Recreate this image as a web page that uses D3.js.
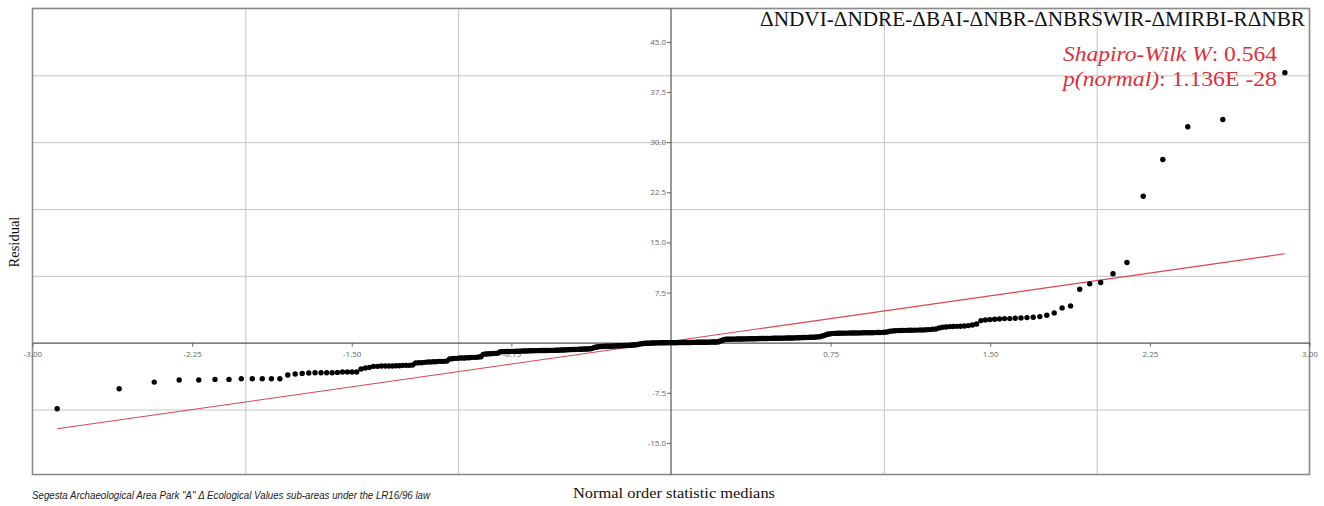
<!DOCTYPE html>
<html>
<head>
<meta charset="utf-8">
<script src="https://cdn.jsdelivr.net/npm/d3@7"></script>
<style>
  html, body { margin: 0; padding: 0; background: #fff; }
  svg { display: block; }
</style>
</head>
<body>
<svg id="chart" width="1324" height="506"></svg>
<script>
// ---------- data ----------
const residuals = [
  -9.9, -6.9, -5.9, -5.6, -5.6, -5.5, -5.5, -5.4, -5.4, -5.4, -5.4, -5.4,
  -4.85, -4.7, -4.6, -4.55, -4.5, -4.5, -4.5, -4.5, -4.45, -4.4, -4.4, -4.4, -4.4,
  -3.95, -3.8, -3.7,
  -3.55, -3.55, -3.5, -3.5, -3.5, -3.5, -3.45, -3.45, -3.4, -3.4, -3.4, -3.35,
  -3.05, -3.0, -3.0, -2.95, -2.9, -2.9, -2.85, -2.85, -2.8, -2.8, -2.8, -2.75,
  -2.45, -2.4, -2.35, -2.35, -2.3, -2.3, -2.3, -2.25, -2.25, -2.2, -2.2, -2.2, -2.15, -2.1,
  -1.75, -1.7, -1.7, -1.65, -1.65, -1.6, -1.6, -1.55,
  -1.35, -1.35, -1.34, -1.33, -1.32, -1.31, -1.3, -1.3, -1.29, -1.28, -1.27, -1.26, -1.25, -1.24, -1.23, -1.22,
  -1.21, -1.2, -1.2, -1.19, -1.19, -1.18, -1.18, -1.17, -1.17, -1.16, -1.16, -1.15, -1.15, -1.14, -1.13, -1.12, -1.11, -1.1, -1.09, -1.08,
  -1.06, -1.05, -1.04, -1.03, -1.02, -1.01, -1.0, -0.99, -0.98, -0.97, -0.96, -0.95, -0.94, -0.93, -0.92,
  -0.85, -0.75, -0.7, -0.65, -0.6,
  -0.58, -0.57, -0.56, -0.55, -0.55, -0.54, -0.53, -0.52, -0.51, -0.5, -0.49, -0.48, -0.47, -0.46, -0.45,
  -0.44, -0.43, -0.42, -0.41, -0.4, -0.38, -0.36, -0.34, -0.31, -0.28,
  -0.22, -0.18, -0.15, -0.12, -0.1, -0.09, -0.08, -0.07, -0.06, -0.05,
  -0.04, -0.04, -0.03, -0.03, -0.02, -0.02, -0.01, -0.01, 0, 0, 0, 0, 0, 0, 0, 0,
  0.01, 0.01, 0.01, 0.02, 0.02, 0.02, 0.03, 0.03, 0.03, 0.04, 0.04, 0.04, 0.05, 0.05, 0.05,
  0.06, 0.06, 0.06, 0.07, 0.07, 0.08, 0.08, 0.09, 0.09, 0.1, 0.1, 0.11,
  0.2, 0.3, 0.4, 0.45, 0.5,
  0.5, 0.51, 0.52, 0.52, 0.53, 0.53, 0.54, 0.54, 0.55, 0.55,
  0.56, 0.56, 0.57, 0.57, 0.58, 0.58, 0.59, 0.59, 0.6, 0.6,
  0.61, 0.61, 0.62, 0.62, 0.63, 0.63, 0.64, 0.64, 0.65, 0.65,
  0.66, 0.66, 0.67, 0.67, 0.68, 0.68, 0.69, 0.69, 0.7, 0.7,
  0.71, 0.72, 0.73, 0.74, 0.75, 0.76, 0.77, 0.78, 0.79, 0.8,
  0.81, 0.82, 0.84, 0.86, 0.88,
  0.95, 1.05, 1.15, 1.25, 1.3, 1.35,
  1.38, 1.39, 1.4, 1.41, 1.42, 1.42, 1.43, 1.43, 1.44, 1.44,
  1.45, 1.45, 1.46, 1.46, 1.47, 1.47, 1.48, 1.48, 1.49, 1.5,
  1.51, 1.52, 1.54, 1.56, 1.6,
  1.7, 1.75, 1.78, 1.8, 1.82, 1.83, 1.84, 1.85, 1.86, 1.87, 1.88, 1.89, 1.9, 1.92, 1.95, 2.0, 2.05,
  2.2, 2.3, 2.35, 2.4, 2.42, 2.44, 2.46, 2.5, 2.55, 2.65, 2.8,
  3.3, 3.4, 3.45, 3.5, 3.55, 3.6, 3.6, 3.65, 3.7, 3.75, 3.8, 3.9, 4.1, 4.45,
  5.2, 5.5, 8.0, 8.8, 9.0, 10.3, 12.0, 21.9, 27.4, 32.3, 33.4, 40.4
];
const lineIntercept = 0.2;     // fitted reference line
const lineSlope = 4.54;
const xTicks = [-3, -2.25, -1.5, -0.75, 0.75, 1.5, 2.25, 3];
const yTicks = [-15, -7.5, 7.5, 15, 22.5, 30, 37.5, 45];
const xGrid = [-2, -1, 1, 2];
const yGrid = [-10, 10, 20, 30, 40];
const titleText = "ΔNDVI-ΔNDRE-ΔBAI-ΔNBR-ΔNBRSWIR-ΔMIRBI-RΔNBR";
const statW = "0.564";
const statP = "1.136E -28";
const xLabel = "Normal order statistic medians";
const yLabel = "Residual";
const caption = "Segesta Archaeological Area Park \"A\" Δ Ecological Values sub-areas under the LR16/96 law";

// ---------- helpers ----------
function normInv(p) { // Acklam's approximation
  const a = [-3.969683028665376e+01, 2.209460984245205e+02, -2.759285104469687e+02, 1.383577518672690e+02, -3.066479806614716e+01, 2.506628277459239e+00];
  const b = [-5.447609879822406e+01, 1.615858368580409e+02, -1.556989798598866e+02, 6.680131188771972e+01, -1.328068155288572e+01];
  const c = [-7.784894002430293e-03, -3.223964580411365e-01, -2.400758277161838e+00, -2.549732539343734e+00, 4.374664141464968e+00, 2.938163982698783e+00];
  const d = [7.784695709041462e-03, 3.224671290700398e-01, 2.445134137142996e+00, 3.754408661907416e+00];
  const pl = 0.02425, ph = 1 - pl;
  let q, r;
  if (p < pl) { q = Math.sqrt(-2 * Math.log(p));
    return (((((c[0]*q+c[1])*q+c[2])*q+c[3])*q+c[4])*q+c[5]) / ((((d[0]*q+d[1])*q+d[2])*q+d[3])*q+1); }
  if (p > ph) { q = Math.sqrt(-2 * Math.log(1 - p));
    return -(((((c[0]*q+c[1])*q+c[2])*q+c[3])*q+c[4])*q+c[5]) / ((((d[0]*q+d[1])*q+d[2])*q+d[3])*q+1); }
  q = p - 0.5; r = q * q;
  return (((((a[0]*r+a[1])*r+a[2])*r+a[3])*r+a[4])*r+a[5])*q / (((((b[0]*r+b[1])*r+b[2])*r+b[3])*r+b[4])*r+1);
}

const sorted = residuals.slice().sort(d3.ascending);
const n = sorted.length;
const points = sorted.map((v, i) => {
  const k = i + 1;
  let m;
  if (k === n) m = Math.pow(0.5, 1 / n);
  else if (k === 1) m = 1 - Math.pow(0.5, 1 / n);
  else m = (k - 0.3175) / (n + 0.365);
  return { x: normInv(m), y: v };
});

// ---------- layout ----------
const svg = d3.select("#chart");
const L = 32.5, R = 1309.5, T = 8.5, B = 474.5;
const x = d3.scaleLinear().domain([-3, 3]).range([L, R]);
const y = d3.scaleLinear().domain([-19.73, 50]).range([B, T]);

// grid
svg.append("g").attr("transform", `translate(0,${B})`)
  .call(d3.axisBottom(x).tickValues(xGrid).tickSize(-(B - T)).tickFormat(""))
  .call(g => g.select(".domain").remove())
  .call(g => g.selectAll("line").attr("stroke", "#c4c4c4").attr("stroke-width", 1));
svg.append("g").attr("transform", `translate(${L},0)`)
  .call(d3.axisLeft(y).tickValues(yGrid).tickSize(-(R - L)).tickFormat(""))
  .call(g => g.select(".domain").remove())
  .call(g => g.selectAll("line").attr("stroke", "#c4c4c4").attr("stroke-width", 1));

// frame
svg.append("rect").attr("x", L).attr("y", T).attr("width", R - L).attr("height", B - T)
  .attr("fill", "none").attr("stroke", "#8a8a8a").attr("stroke-width", 1.6);

// central axes
const xAxis = svg.append("g").attr("transform", `translate(0,${y(0)})`)
  .call(d3.axisBottom(x).tickValues(xTicks).tickSize(4).tickSizeOuter(0).tickFormat(d => d.toFixed(2)));
xAxis.select(".domain").attr("stroke", "#555").attr("stroke-width", 1.2);
xAxis.selectAll("line").attr("stroke", "#666");
xAxis.selectAll("text").attr("fill", "#666").attr("font-family", "Open Sans, sans-serif").attr("font-size", 8).attr("dy", "0.9em");

const yAxis = svg.append("g").attr("transform", `translate(${x(0)},0)`)
  .call(d3.axisLeft(y).tickValues(yTicks).tickSize(4).tickSizeOuter(0).tickFormat(d => d.toFixed(1)));
yAxis.select(".domain").remove();
svg.append("line").attr("x1", x(0)).attr("x2", x(0)).attr("y1", T).attr("y2", B)
  .attr("stroke", "#555").attr("stroke-width", 1.2);
yAxis.selectAll("line").attr("stroke", "#666");
yAxis.selectAll("text").attr("fill", "#666").attr("font-family", "Open Sans, sans-serif").attr("font-size", 8).attr("x", -5);

// fitted line
const x0 = points[0].x, x1 = points[n - 1].x;
svg.append("line")
  .attr("x1", x(x0)).attr("y1", y(lineIntercept + lineSlope * x0))
  .attr("x2", x(x1)).attr("y2", y(lineIntercept + lineSlope * x1))
  .attr("stroke", "#e0444c").attr("stroke-width", 1.1);

// points
svg.append("g").selectAll("circle").data(points).join("circle")
  .attr("cx", d => x(d.x)).attr("cy", d => y(d.y)).attr("r", 2.7).attr("fill", "#000");

// title
svg.append("text").attr("x", 1305).attr("y", 26).attr("text-anchor", "end")
  .attr("font-family", "Liberation Serif, serif").attr("font-size", 20).attr("fill", "#111")
  .attr("textLength", 545).attr("lengthAdjust", "spacingAndGlyphs")
  .text(titleText);

// stats
const red = "#dc2f3a";
const s1 = svg.append("text").attr("x", 1277).attr("y", 61).attr("text-anchor", "end")
  .attr("font-family", "Liberation Serif, serif").attr("font-size", 22).attr("fill", red)
  .attr("textLength", 214).attr("lengthAdjust", "spacingAndGlyphs");
s1.append("tspan").attr("font-style", "italic").text("Shapiro-Wilk W");
s1.append("tspan").text(": " + statW);
const s2 = svg.append("text").attr("x", 1277).attr("y", 86).attr("text-anchor", "end")
  .attr("font-family", "Liberation Serif, serif").attr("font-size", 22).attr("fill", red)
  .attr("textLength", 214).attr("lengthAdjust", "spacingAndGlyphs");
s2.append("tspan").attr("font-style", "italic").text("p(normal)");
s2.append("tspan").text(": " + statP);

// axis labels
svg.append("text").attr("x", 674).attr("y", 498).attr("text-anchor", "middle")
  .attr("font-family", "Liberation Serif, serif").attr("font-size", 15).attr("fill", "#111")
  .attr("textLength", 202).attr("lengthAdjust", "spacingAndGlyphs")
  .text(xLabel);
svg.append("text").attr("transform", "translate(19,242) rotate(-90)").attr("text-anchor", "middle")
  .attr("font-family", "Liberation Serif, serif").attr("font-size", 14.5).attr("fill", "#111")
  .text(yLabel);

// caption
svg.append("text").attr("x", 32).attr("y", 499)
  .attr("font-family", "Liberation Sans Narrow, Liberation Sans, sans-serif").attr("font-style", "italic")
  .attr("font-size", 11).attr("fill", "#222")
  .attr("textLength", 398).attr("lengthAdjust", "spacingAndGlyphs")
  .text(caption);
</script>
</body>
</html>
